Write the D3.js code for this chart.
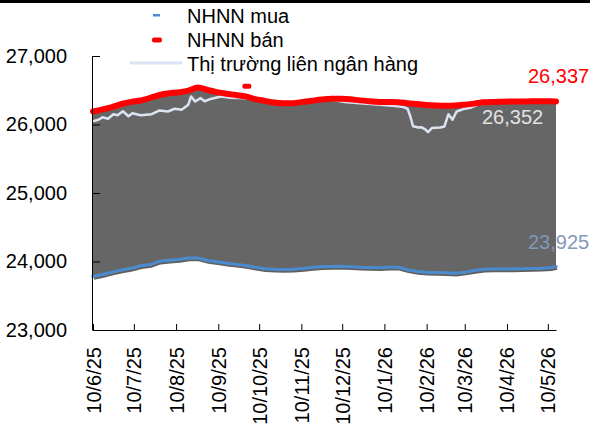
<!DOCTYPE html>
<html>
<head>
<meta charset="utf-8">
<script src="https://cdn.jsdelivr.net/npm/d3@7"></script>
<style>
body { margin: 0; background: #fff; }
text { font-family: "Liberation Sans", Arial, sans-serif; }
</style>
</head>
<body>
<script>
// ngày (tuần) cho giá NHNN mua / bán
var ngay = ["2025-06-10","2025-06-17","2025-06-24","2025-07-01","2025-07-08","2025-07-15","2025-07-22","2025-07-29",
    "2025-08-05","2025-08-12","2025-08-19","2025-08-26","2025-09-02","2025-09-09","2025-09-16","2025-09-23","2025-09-30",
    "2025-10-07","2025-10-14","2025-10-21","2025-10-28","2025-11-04","2025-11-11","2025-11-18","2025-11-25","2025-12-02",
    "2025-12-09","2025-12-16","2025-12-23","2025-12-30","2026-01-06","2026-01-13","2026-01-20","2026-01-27","2026-02-03",
    "2026-02-10","2026-02-17","2026-02-24","2026-03-03","2026-03-10","2026-03-17","2026-03-24","2026-03-31","2026-04-07",
    "2026-04-14","2026-04-21","2026-04-28","2026-05-05","2026-05-12","2026-05-16"];

var nhnnBan = [26190,26220,26255,26299,26330,26350,26390,26430,26455,26470,26494,26540,26505,26472,26450,26430,26410,
    26370,26345,26320,26312,26312,26330,26348,26365,26377,26375,26368,26352,26340,26330,26328,26326,26310,26298,26285,
    26278,26275,26278,26290,26305,26324,26330,26333,26336,26337,26338,26338,26340,26337];

var nhnnMua = [23780,23810,23845,23876,23900,23938,23955,24005,24017,24028,24050,24050,24015,23995,23975,23958,23942,
    23915,23895,23887,23885,23888,23898,23912,23923,23928,23930,23922,23915,23912,23910,23915,23915,23880,23855,23842,
    23838,23835,23828,23845,23870,23887,23889,23890,23892,23895,23897,23900,23910,23925];

// điểm bán lẻ tách rời
var ngayBanRieng = ["2025-10-01"];
var banRieng = [26560];

// thị trường liên ngân hàng
var ngayLNH = ["2025-06-10","2025-06-14","2025-06-17","2025-06-21","2025-06-25","2025-06-28","2025-07-02","2025-07-06",
    "2025-07-09","2025-07-15","2025-07-23","2025-07-29","2025-08-04","2025-08-09","2025-08-14","2025-08-19","2025-08-21",
    "2025-08-24","2025-08-28","2025-08-31","2025-09-05","2025-09-12","2025-09-19","2025-09-30","2025-10-12","2025-10-24",
    "2025-11-05","2025-11-18","2025-11-30","2025-12-12","2025-12-23","2026-01-07","2026-01-18","2026-01-24","2026-01-27",
    "2026-01-29","2026-01-31","2026-02-04","2026-02-06","2026-02-09","2026-02-11","2026-02-14","2026-02-20","2026-02-23",
    "2026-02-26","2026-03-01","2026-03-04","2026-03-09","2026-03-14","2026-03-21","2026-04-05","2026-04-20","2026-05-04",
    "2026-05-16"];
var lienNganHang = [26047,26070,26105,26085,26150,26134,26193,26120,26165,26134,26150,26205,26190,26230,26215,26290,
    26410,26335,26385,26340,26377,26410,26390,26385,26345,26312,26310,26345,26368,26330,26310,26290,26270,26255,26230,
    26120,25975,25955,25960,25930,25890,25950,25955,25970,26150,26070,26190,26225,26245,26300,26322,26330,26335,26340];

var nhanX = ["2025-06-10","2025-07-10","2025-08-10","2025-09-10","2025-10-10","2025-11-10","2025-12-10",
    "2026-01-10","2026-02-10","2026-03-10","2026-04-10","2026-05-10"];
var nhanY = [23000, 24000, 25000, 26000, 27000];

var chuGiaBan = "26,337";
var chuLNH = "26,352";
var chuGiaMua = "23,925";

var ancho = 590, altura = 430;
var docNgay = d3.timeParse("%Y-%m-%d");

var datos = ngay.map(function (d, i) {
    return { fecha: docNgay(d), ban: nhnnBan[i], mua: nhnnMua[i] };
});
var datosLNH = ngayLNH.map(function (d, i) {
    return { fecha: docNgay(d), valor: lienNganHang[i] };
});

var svg = d3.select("body").append("svg")
    .attr("width", ancho)
    .attr("height", altura);

var escalaX = d3.scaleTime()
    .domain(d3.extent(datos, function (d) { return d.fecha; }))
    .range([93, 556]);

var escalaY = d3.scaleLinear()
    .domain([23000, 27000])
    .range([330, 56]);

// black rule along the top
svg.append("rect").attr("x", 0).attr("y", 0).attr("width", ancho).attr("height", 3).attr("fill", "#000");

// grey band between buy and sell
var area = d3.area()
    .x(function (d) { return escalaX(d.fecha); })
    .y0(function (d) { return escalaY(d.mua); })
    .y1(function (d) { return escalaY(d.ban); });

svg.append("path")
    .datum(datos)
    .attr("d", area)
    .attr("fill", "#666666");

var lineaMua = d3.line()
    .x(function (d) { return escalaX(d.fecha); })
    .y(function (d) { return escalaY(d.mua); });

// shadow under the buy line
svg.append("path")
    .datum(datos)
    .attr("d", lineaMua)
    .attr("transform", "translate(1,2)")
    .attr("fill", "none")
    .attr("stroke", "#606060")
    .attr("stroke-width", 2.5);

svg.append("path")
    .datum(datos)
    .attr("d", lineaMua)
    .attr("fill", "none")
    .attr("stroke", "#4a8bd0")
    .attr("stroke-width", 3)
    .attr("stroke-linecap", "square");

var lineaLNH = d3.line()
    .x(function (d) { return escalaX(d.fecha); })
    .y(function (d) { return escalaY(d.valor); });

svg.append("path")
    .datum(datosLNH)
    .attr("d", lineaLNH)
    .attr("fill", "none")
    .attr("stroke", "#dce4f4")
    .attr("stroke-width", 2.5)
    .attr("stroke-linejoin", "round");

var lineaBan = d3.line()
    .x(function (d) { return escalaX(d.fecha); })
    .y(function (d) { return escalaY(d.ban); })
    .curve(d3.curveMonotoneX);

svg.append("path")
    .datum(datos)
    .attr("d", lineaBan)
    .attr("fill", "none")
    .attr("stroke", "#ff0000")
    .attr("stroke-width", 6)
    .attr("stroke-linecap", "round");

svg.selectAll(".banRieng")
    .data(ngayBanRieng)
    .enter().append("rect")
    .attr("class", "banRieng")
    .attr("x", function (d) { return escalaX(docNgay(d)) - 4.5; })
    .attr("y", function (d, i) { return escalaY(banRieng[i]) - 2.5; })
    .attr("width", 9)
    .attr("height", 5)
    .attr("rx", 2)
    .attr("fill", "#ff0000");

// axes
var ejeY = d3.axisLeft(escalaY)
    .tickValues(nhanY)
    .tickFormat(d3.format(","))
    .tickSize(-7)
    .tickPadding(26);

var gY = svg.append("g")
    .attr("transform", "translate(93,0)")
    .call(ejeY);
gY.select(".domain").attr("stroke", "#000").attr("d", "M-0.5,56H-0.5V330.5");
gY.selectAll("text").style("font-size", "20px").attr("fill", "#000");

var ejeX = d3.axisBottom(escalaX)
    .tickValues(nhanX.map(docNgay))
    .tickFormat(d3.timeFormat("%-d/%-m/%y"))
    .tickSize(-6)
    .tickSizeOuter(0);

var gX = svg.append("g")
    .attr("transform", "translate(0,330)")
    .call(ejeX);
gX.select(".domain").attr("stroke", "#000");
gX.selectAll("text")
    .attr("transform", "rotate(-90)")
    .attr("x", -17)
    .attr("y", 0)
    .attr("dy", "0.35em")
    .attr("text-anchor", "end")
    .style("font-size", "20px")
    .attr("fill", "#000");

// end value labels
svg.append("text").attr("x", 528).attr("y", 83).style("font-size", "20px").attr("fill", "#ff0000").text(chuGiaBan);
svg.append("text").attr("x", 482).attr("y", 124).style("font-size", "20px").attr("fill", "#e2e2e2").text(chuLNH);
svg.append("text").attr("x", 528).attr("y", 249).style("font-size", "20px").attr("fill", "#8498b8").text(chuGiaMua);

// legend
var leyenda = svg.append("g");
leyenda.append("rect").attr("x", 153).attr("y", 14).attr("width", 7).attr("height", 2.5).attr("fill", "#4a8bd0");
leyenda.append("rect").attr("x", 152).attr("y", 37.5).attr("width", 10).attr("height", 5).attr("rx", 2).attr("fill", "#ff0000");
leyenda.append("line").attr("x1", 130).attr("x2", 182).attr("y1", 63).attr("y2", 63)
    .attr("stroke", "#dce4f4").attr("stroke-width", 3);
leyenda.append("text").attr("x", 187).attr("y", 23).style("font-size", "20px").text("NHNN mua");
leyenda.append("text").attr("x", 187).attr("y", 47).style("font-size", "20px").text("NHNN bán");
leyenda.append("text").attr("x", 187).attr("y", 71).style("font-size", "20px").text("Thị trường liên ngân hàng");
</script>
</body>
</html>
